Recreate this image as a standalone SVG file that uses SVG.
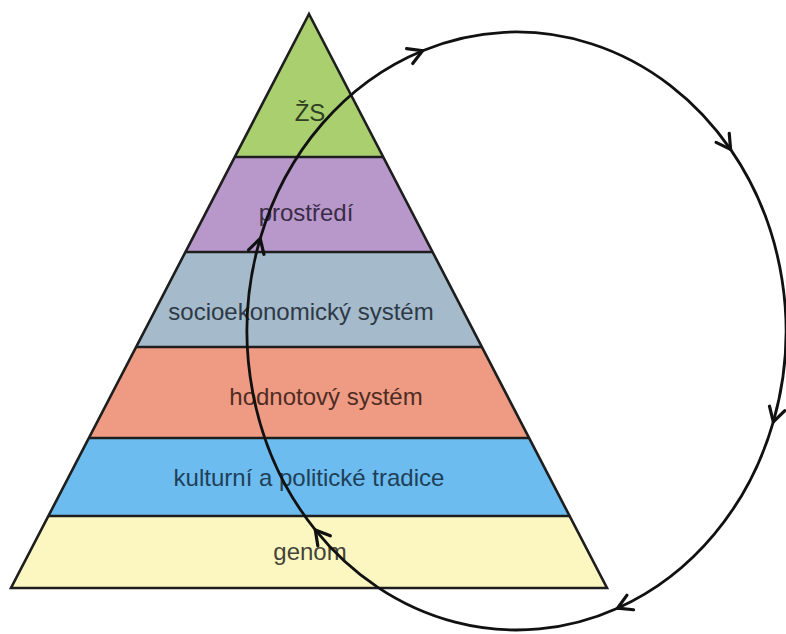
<svg xmlns="http://www.w3.org/2000/svg" width="786" height="634" viewBox="0 0 786 634">
  <style>
    .band { stroke: none; }
    .lbl { font-family: "Liberation Sans", Arial, sans-serif; font-size: 24px; text-anchor: middle; }
    .edge { fill: none; stroke: #1e1e1e; stroke-width: 2.6; stroke-linejoin: miter; }
    .cyc { fill: none; stroke: #111; stroke-width: 2.8; stroke-linecap: round; }
  </style>
  <defs>
    <marker id="arr" markerUnits="userSpaceOnUse" viewBox="-18 -12 20 24" markerWidth="20" markerHeight="24" refX="0" refY="0" orient="auto" overflow="visible">
      <path d="M-14,-8 L0,0 L-14,8" fill="none" stroke="#111" stroke-width="3.2" stroke-linejoin="miter" stroke-linecap="round"/>
    </marker>
  </defs>
  <rect width="786" height="634" fill="#ffffff"/>

  <g id="node-zs">
    <polygon class="band" points="309,14 383.2,157 234.8,157" fill="#a9cf6f"/>
    <text class="lbl" x="310" y="121" fill="#2e3f22">ŽS</text>
  </g>
  <g id="node-prostredi">
    <polygon class="band" points="234.8,157 383.2,157 432.6,252 185.4,252" fill="#b897cb"/>
    <text class="lbl" x="306" y="221" fill="#3a2c45">prostředí</text>
  </g>
  <g id="node-socio">
    <polygon class="band" points="185.4,252 432.6,252 481.9,347 136.1,347" fill="#a5bbcb"/>
    <text class="lbl" x="301" y="320" fill="#2d3946">socioekonomický systém</text>
  </g>
  <g id="node-hodnoty">
    <polygon class="band" points="136.1,347 481.9,347 529.1,438 88.9,438" fill="#ef9b83"/>
    <text class="lbl" x="326" y="405" fill="#4e2c24">hodnotový systém</text>
  </g>
  <g id="node-tradice">
    <polygon class="band" points="88.9,438 529.1,438 569.6,516 48.4,516" fill="#6dbcef"/>
    <text class="lbl" x="309" y="486" fill="#1e4058">kulturní a politické tradice</text>
  </g>
  <g id="node-genom">
    <polygon class="band" points="48.4,516 569.6,516 607,588 11,588" fill="#fcf7c1"/>
    <text class="lbl" x="310" y="560" fill="#444438">genom</text>
  </g>

  <g id="pyramid-outline">
    <polygon class="edge" points="309,14 607,588 11,588"/>
    <line class="edge" x1="234.8" y1="157" x2="383.2" y2="157"/>
    <line class="edge" x1="185.4" y1="252" x2="432.6" y2="252"/>
    <line class="edge" x1="136.1" y1="347" x2="481.9" y2="347"/>
    <line class="edge" x1="88.9" y1="438" x2="529.1" y2="438"/>
    <line class="edge" x1="48.4" y1="516" x2="569.6" y2="516"/>
  </g>

  <g id="connectors">
    <path class="cyc" marker-end="url(#arr)" d="M260.2,238.6 A269.5,299 0 0 1 422.6,50.7"/>
    <path class="cyc" marker-end="url(#arr)" d="M422.6,50.7 A269.5,299 0 0 1 730.6,149.4"/>
    <path class="cyc" marker-end="url(#arr)" d="M730.6,149.4 A269.5,299 0 0 1 773.3,421.9"/>
    <path class="cyc" marker-end="url(#arr)" d="M773.3,421.9 A269.5,299 0 0 1 617.5,608.2"/>
    <path class="cyc" marker-end="url(#arr)" d="M617.5,608.2 A269.5,299 0 0 1 315.3,529.9"/>
    <path class="cyc" marker-end="url(#arr)" d="M315.3,529.9 A269.5,299 0 0 1 260.2,238.6"/>
  </g>
</svg>
